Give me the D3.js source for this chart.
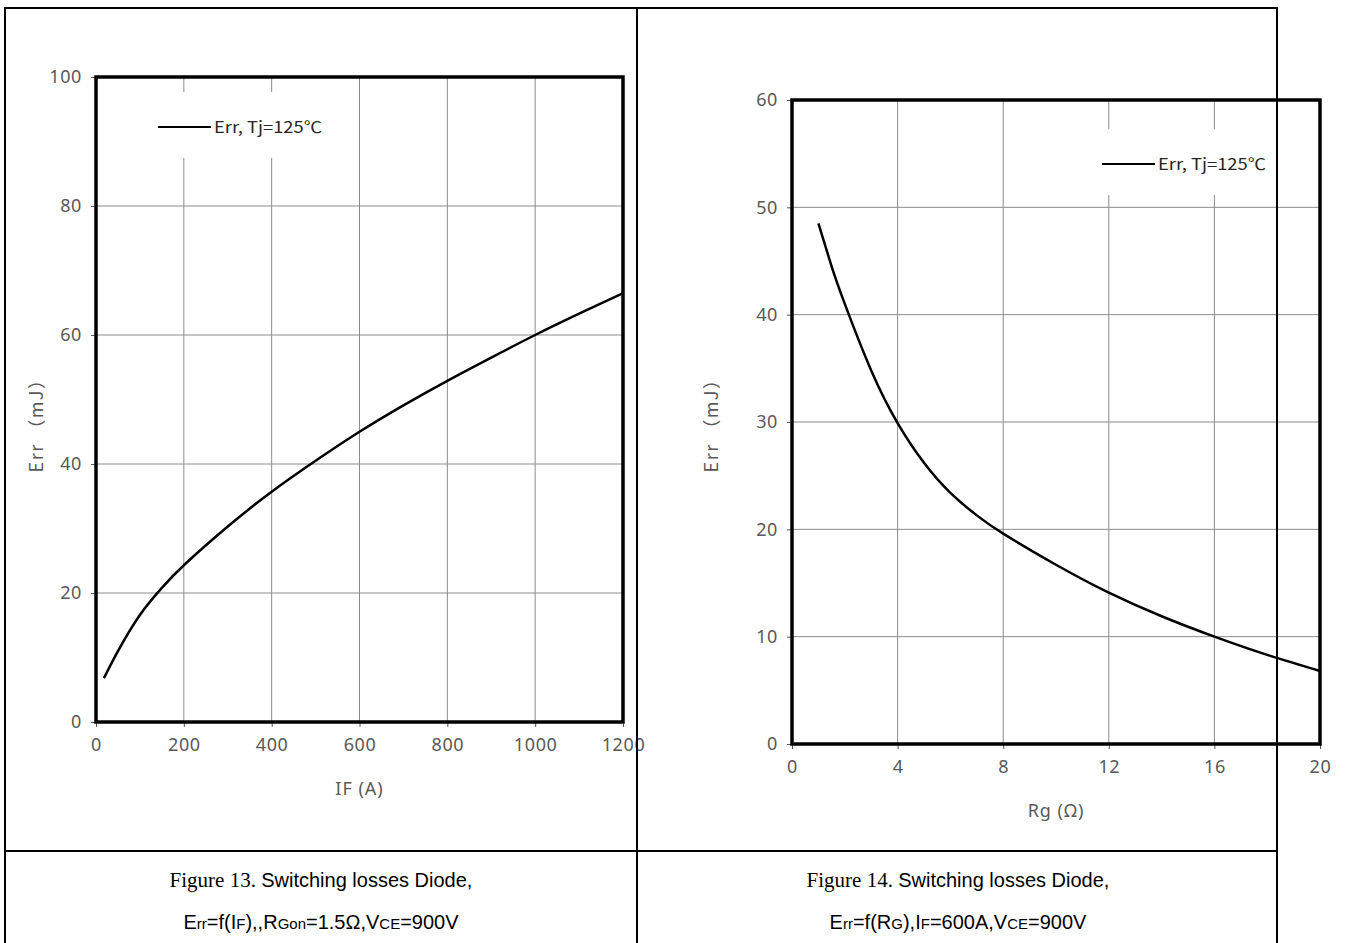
<!DOCTYPE html>
<html lang="en">
<head>
<meta charset="UTF-8">
<title>Switching losses Diode</title>
<script src="https://d3js.org/d3.v7.min.js"></script>
<style>
  body { margin: 0; background: #fff; }
  .tick text { fill: #595959; font-family: "Noto Sans", sans-serif; font-size: 18px; letter-spacing: 0.6px; }
  .tick line { stroke: #595959; }
  .domain { display: none; }
</style>
</head>
<body>
<svg id="chart" width="1345" height="943"></svg>
<script>
// Figure 13: Err vs IF
const ifAmps = [18, 50, 100, 150, 200, 300, 400, 500, 600, 700, 800, 900, 1000, 1100, 1200];
const errIf  = [6.8, 11.0, 16.6, 20.8, 24.3, 30.3, 35.7, 40.5, 45.0, 49.1, 52.9, 56.5, 60.0, 63.3, 66.5];
const ifTicks = [0, 200, 400, 600, 800, 1000, 1200];
const errIfTicks = [0, 20, 40, 60, 80, 100];

// Figure 14: Err vs Rg
const rgOhm = [1, 1.5, 2, 3, 4, 5, 6, 7, 8, 10, 12, 14, 16, 18, 20];
const errRg = [48.5, 44.5, 41.0, 34.8, 29.9, 26.2, 23.4, 21.3, 19.6, 16.7, 14.1, 11.9, 10.0, 8.3, 6.8];
const rgTicks = [0, 4, 8, 12, 16, 20];
const errRgTicks = [0, 10, 20, 30, 40, 50, 60];

const legendLabel = 'Err, Tj=125\u2103';

const svg = d3.select('#chart');

function drawChart(opt) {
  const x = d3.scaleLinear().domain(opt.xDomain).range([opt.left, opt.right]);
  const y = d3.scaleLinear().domain(opt.yDomain).range([opt.bottom, opt.top]);
  const g = svg.append('g');

  // grid
  g.append('g').selectAll('line').data(opt.xTicks.slice(1, -1)).enter().append('line')
    .attr('x1', d => x(d)).attr('x2', d => x(d))
    .attr('y1', opt.top).attr('y2', opt.bottom)
    .attr('stroke', '#8c8c8c').attr('stroke-width', 1);
  g.append('g').selectAll('line').data(opt.yTicks.slice(1, -1)).enter().append('line')
    .attr('x1', opt.left).attr('x2', opt.right)
    .attr('y1', d => y(d)).attr('y2', d => y(d))
    .attr('stroke', '#8c8c8c').attr('stroke-width', 1);

  // axes
  g.append('g').attr('transform', 'translate(' + opt.left + ',0)')
    .call(d3.axisLeft(y).tickValues(opt.yTicks).tickFormat(d3.format('d')).tickSize(5).tickPadding(9));
  g.append('g').attr('transform', 'translate(0,' + opt.bottom + ')')
    .call(d3.axisBottom(x).tickValues(opt.xTicks).tickFormat(d3.format('d')).tickSize(5).tickPadding(11));

  // legend box (hides grid behind it)
  g.append('rect')
    .attr('x', opt.legX - 18).attr('y', opt.legY - 35)
    .attr('width', 200).attr('height', 66)
    .attr('fill', '#fff');
  g.append('line')
    .attr('x1', opt.legX).attr('x2', opt.legX + 53)
    .attr('y1', opt.legY).attr('y2', opt.legY)
    .attr('stroke', '#000').attr('stroke-width', 2);
  g.append('text')
    .attr('x', opt.legX + 56).attr('y', opt.legY + 6)
    .attr('font-family', '"Noto Sans CJK SC", sans-serif')
    .attr('font-size', 16).attr('fill', '#262626')
    .attr('textLength', 108).attr('lengthAdjust', 'spacingAndGlyphs')
    .text(legendLabel);

  // curve
  const line = d3.line().x(d => x(d[0])).y(d => y(d[1])).curve(d3.curveNatural);
  g.append('path')
    .datum(opt.xs.map((v, i) => [v, opt.ys[i]]))
    .attr('d', line)
    .attr('fill', 'none').attr('stroke', '#000').attr('stroke-width', 2.5);

  // frame
  g.append('rect')
    .attr('x', opt.left).attr('y', opt.top)
    .attr('width', opt.right - opt.left).attr('height', opt.bottom - opt.top)
    .attr('fill', 'none').attr('stroke', '#000').attr('stroke-width', 3.5);

  // axis titles
  g.append('text')
    .attr('x', (opt.left + opt.right) / 2).attr('y', opt.xTitleY)
    .attr('text-anchor', 'middle')
    .attr('font-family', '"Noto Sans", sans-serif').attr('font-size', 18)
    .attr('letter-spacing', 1).attr('fill', '#595959')
    .text(opt.xTitle);
  g.append('text')
    .attr('transform', 'translate(' + opt.yTitleX + ',421) rotate(-90)')
    .attr('text-anchor', 'middle')
    .attr('font-family', '"Noto Sans CJK SC", sans-serif').attr('font-size', 18)
    .attr('letter-spacing', 1.5).attr('fill', '#595959')
    .text('Err \uff08mJ\uff09');
}

drawChart({
  xDomain: [0, 1200], yDomain: [0, 100],
  left: 96, right: 623, top: 77, bottom: 722,
  xTicks: ifTicks, yTicks: errIfTicks,
  xs: ifAmps, ys: errIf,
  legX: 158, legY: 127,
  xTitle: 'IF (A)', xTitleY: 795, yTitleX: 43
});

drawChart({
  xDomain: [0, 20], yDomain: [0, 60],
  left: 792, right: 1320, top: 100, bottom: 744,
  xTicks: rgTicks, yTicks: errRgTicks,
  xs: rgOhm, ys: errRg,
  legX: 1102, legY: 164,
  xTitle: 'Rg (\u03a9)', xTitleY: 817, yTitleX: 718
});

// table lines, drawn on top
const table = svg.append('g').attr('stroke', '#000').attr('stroke-width', 2);
table.append('rect').attr('x', 5).attr('y', 8).attr('width', 1272).attr('height', 960).attr('fill', 'none');
table.append('line').attr('x1', 637).attr('x2', 637).attr('y1', 8).attr('y2', 943);
table.append('line').attr('x1', 5).attr('x2', 1277).attr('y1', 851).attr('y2', 851);

// captions
function caption(cx, parts) {
  const t1 = svg.append('text').attr('x', cx).attr('y', 887).attr('text-anchor', 'middle')
    .attr('font-size', 20).attr('fill', '#000');
  t1.append('tspan').attr('font-family', '"Liberation Serif", serif').attr('font-size', 21).text(parts.fig + ' ');
  t1.append('tspan').attr('font-family', '"Liberation Sans", sans-serif').text('Switching losses Diode,');

  const t2 = svg.append('text').attr('x', cx).attr('y', 929).attr('text-anchor', 'middle')
    .attr('font-family', '"Liberation Sans", sans-serif').attr('font-size', 20).attr('fill', '#000');
  parts.formula.forEach(p => {
    t2.append('tspan').attr('font-size', p.sub ? 15 : 20).text(p.t);
  });
}

caption(321, {
  fig: 'Figure 13.',
  formula: [{t: 'E'}, {t: 'rr', sub: true}, {t: '=f(I'}, {t: 'F', sub: true}, {t: '),,R'},
            {t: 'Gon', sub: true}, {t: '=1.5\u03a9,V'}, {t: 'CE', sub: true}, {t: '=900V'}]
});
caption(958, {
  fig: 'Figure 14.',
  formula: [{t: 'E'}, {t: 'rr', sub: true}, {t: '=f(R'}, {t: 'G', sub: true}, {t: '),I'},
            {t: 'F', sub: true}, {t: '=600A,V'}, {t: 'CE', sub: true}, {t: '=900V'}]
});
</script>
</body>
</html>
